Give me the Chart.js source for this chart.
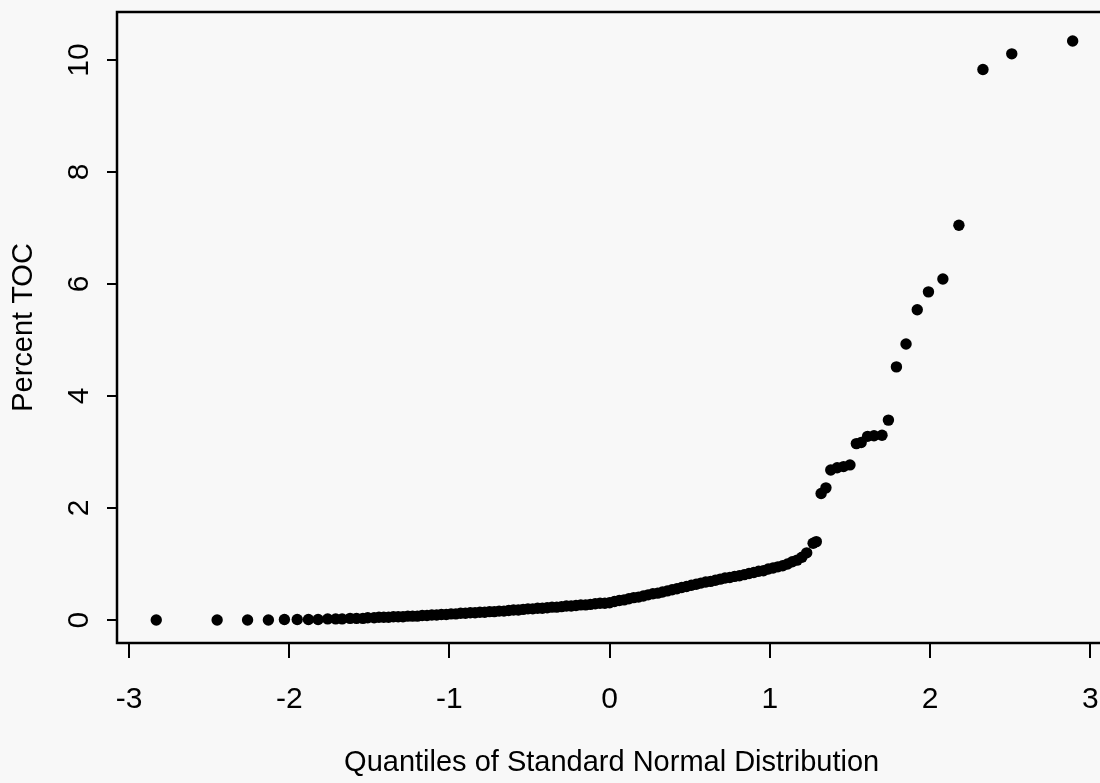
<!DOCTYPE html>
<html>
<head>
<meta charset="utf-8">
<title>Percent TOC normal probability plot</title>
<script src="https://cdn.jsdelivr.net/npm/chart.js@4/dist/chart.umd.min.js"></script>
<style>
  html, body { margin: 0; padding: 0; background: #f8f8f8; overflow: hidden; }
  #qq { display: block; background: #f8f8f8; }
</style>
</head>
<body>
<canvas id="qq" width="1112" height="783"></canvas>
<script>
// normal quantile (x) and measured TOC percent (y), sorted
const quantiles = [
  -2.83, -2.45, -2.26, -2.13, -2.03, -1.95, -1.88, -1.82, -1.76,
  -1.71, -1.67, -1.62, -1.58, -1.54, -1.51, -1.47, -1.44, -1.41, -1.38,
  -1.35, -1.32, -1.29, -1.26, -1.23, -1.20, -1.17, -1.14, -1.11, -1.08,
  -1.05, -1.02, -0.99, -0.96, -0.93, -0.90, -0.87, -0.84, -0.81, -0.78,
  -0.75, -0.72, -0.69, -0.66, -0.63, -0.60, -0.57, -0.54, -0.51, -0.48,
  -0.45, -0.42, -0.39, -0.36, -0.33, -0.30, -0.27, -0.24, -0.21, -0.18,
  -0.15, -0.12, -0.09, -0.06, -0.03, 0.00, 0.03, 0.06, 0.09, 0.12,
  0.15, 0.18, 0.21, 0.24, 0.27, 0.30, 0.33, 0.36, 0.39, 0.42,
  0.45, 0.48, 0.51, 0.54, 0.57, 0.60, 0.63, 0.66, 0.69, 0.72,
  0.75, 0.78, 0.81, 0.84, 0.87, 0.90, 0.93, 0.96, 0.99, 1.02,
  1.05, 1.08, 1.11, 1.14, 1.17, 1.20, 1.23,
  1.27, 1.29, 1.32, 1.35, 1.38, 1.42, 1.46, 1.50, 1.54, 1.57,
  1.61, 1.65, 1.70, 1.74, 1.79, 1.85, 1.92, 1.99, 2.08, 2.18,
  2.33, 2.51, 2.89
];
const toc = [
  0.00, 0.00, 0.00, 0.00, 0.01, 0.01, 0.01, 0.01, 0.02,
  0.02, 0.02, 0.03, 0.03, 0.03, 0.04, 0.04, 0.05, 0.05, 0.05,
  0.06, 0.06, 0.06, 0.07, 0.07, 0.07, 0.08, 0.08, 0.09, 0.09,
  0.10, 0.10, 0.11, 0.11, 0.12, 0.12, 0.13, 0.13, 0.14, 0.14,
  0.15, 0.15, 0.16, 0.16, 0.17, 0.18, 0.18, 0.19, 0.20, 0.20,
  0.21, 0.21, 0.22, 0.23, 0.23, 0.24, 0.25, 0.25, 0.26, 0.27,
  0.27, 0.28, 0.29, 0.30, 0.30, 0.31, 0.33, 0.35, 0.36, 0.38,
  0.40, 0.41, 0.43, 0.45, 0.47, 0.48, 0.50, 0.52, 0.54, 0.56,
  0.58, 0.60, 0.62, 0.64, 0.66, 0.68, 0.69, 0.71, 0.73, 0.75,
  0.76, 0.78, 0.79, 0.81, 0.83, 0.85, 0.87, 0.88, 0.91, 0.93,
  0.95, 0.97, 1.00, 1.04, 1.07, 1.12, 1.20,
  1.37, 1.40, 2.26, 2.36, 2.68, 2.72, 2.74, 2.77, 3.15, 3.17,
  3.28, 3.29, 3.30, 3.57, 4.52, 4.93, 5.54, 5.86, 6.09, 7.05,
  9.83, 10.11, 10.34
];
const xTicks = [-3, -2, -1, 0, 1, 2, 3];
const yTicks = [0, 2, 4, 6, 8, 10];

const FONT = 'Liberation Sans, Arial, Helvetica, sans-serif';

// S-style closed box around the plot region
const boxPlugin = {
  id: 'box',
  afterDraw(chart) {
    const { ctx, chartArea: a } = chart;
    ctx.save();
    ctx.strokeStyle = '#000';
    ctx.lineWidth = 2.5;
    ctx.strokeRect(a.left, a.top, a.right - a.left, a.bottom - a.top);
    ctx.restore();
  }
};

const ctx = document.getElementById('qq').getContext('2d');
new Chart(ctx, {
  type: 'scatter',
  data: {
    datasets: [{
      data: quantiles.map((q, i) => ({ x: q, y: toc[i] })),
      backgroundColor: '#000',
      borderWidth: 0,
      pointRadius: 5.7,
      pointHoverRadius: 5.7
    }]
  },
  options: {
    responsive: false,
    animation: false,
    events: [],
    layout: { padding: { top: 12, right: 4, left: 0, bottom: 0 } },
    plugins: { legend: { display: false }, tooltip: { enabled: false } },
    scales: {
      x: {
        type: 'linear',
        min: -3.075,
        max: 3.10,
        afterBuildTicks: s => { s.ticks = xTicks.map(v => ({ value: v })); },
        afterFit: s => { s.height = 140; s.paddingLeft = 0; s.paddingRight = 0; },
        border: { display: false },
        grid: { drawOnChartArea: false, drawTicks: true, tickLength: 15, color: '#000', lineWidth: 2 },
        ticks: { padding: 24, color: '#000', font: { family: FONT, size: 30 } },
        title: {
          display: true,
          text: 'Quantiles of Standard Normal Distribution',
          color: '#000',
          font: { family: FONT, size: 29 },
          padding: { top: 0, bottom: 3 }
        }
      },
      y: {
        type: 'linear',
        min: -0.41,
        max: 10.857,
        afterBuildTicks: s => { s.ticks = yTicks.map(v => ({ value: v })); },
        afterFit: s => { s.width = 117; s.paddingTop = 0; s.paddingBottom = 0; },
        border: { display: false },
        grid: { drawOnChartArea: false, drawTicks: true, tickLength: 10, color: '#000', lineWidth: 2 },
        ticks: {
          minRotation: 90,
          maxRotation: 90,
          crossAlign: 'center',
          padding: 11,
          color: '#000',
          font: { family: FONT, size: 30 }
        },
        title: {
          display: true,
          text: 'Percent TOC',
          color: '#000',
          font: { family: FONT, size: 29 },
          padding: { top: 7, bottom: 0 }
        }
      }
    }
  },
  plugins: [boxPlugin]
});
</script>
</body>
</html>
